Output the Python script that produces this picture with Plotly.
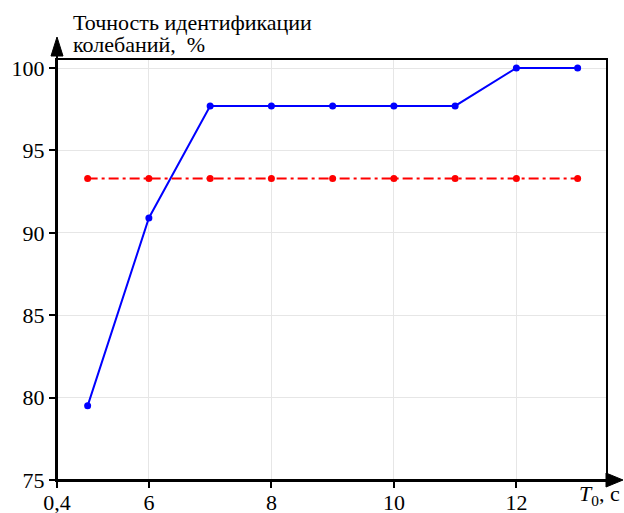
import plotly.graph_objects as go

T0 = [5, 6, 7, 8, 9, 10, 11, 12, 13]
accuracy_blue = [79.5, 90.9, 97.7, 97.7, 97.7, 97.7, 97.7, 100.0, 100.0]
accuracy_red = [93.3, 93.3, 93.3, 93.3, 93.3, 93.3, 93.3, 93.3, 93.3]
x_tickvals = [4.5, 6, 8, 10, 12]
x_ticktext = ["0,4", "6", "8", "10", "12"]
y_tickvals = [75, 80, 85, 90, 95, 100]

FONT = "Liberation Serif"
FS = 22

fig = go.Figure()
fig.add_trace(go.Scatter(x=T0, y=accuracy_blue, mode="lines+markers",
                         line=dict(color="#0000ff", width=2),
                         marker=dict(color="#0000ff", size=7), showlegend=False))
fig.add_trace(go.Scatter(x=T0, y=accuracy_red, mode="lines+markers",
                         line=dict(color="#ff0000", width=2, dash="10px,4px,3px,4px"),
                         marker=dict(color="#ff0000", size=7), showlegend=False))

L, R, T, B = 57, 18, 60, 33
W, H = 624, 513
pw, ph = W - L - R, H - T - B

def px(x):
    return (x - L) / pw

def py(y):
    return (H - B - y) / ph

shapes = [
    dict(type="line", xref="paper", yref="paper", x0=0, x1=px(612), y0=0, y1=0,
         line=dict(color="black", width=2)),
    dict(type="path", xref="paper", yref="paper",
         path=f"M {px(606)},{py(473)} L {px(623)},{py(480)} L {px(606)},{py(487)} Z",
         fillcolor="black", line=dict(color="black", width=1)),
    dict(type="line", xref="paper", yref="paper", x0=0, x1=0, y0=0, y1=py(45),
         line=dict(color="black", width=2)),
    dict(type="path", xref="paper", yref="paper",
         path=f"M {px(51)},{py(56)} L {px(57)},{py(37)} L {px(63)},{py(56)} Z",
         fillcolor="black", line=dict(color="black", width=1)),
]

fig.update_layout(
    width=W, height=H,
    margin=dict(l=L, r=R, t=T, b=B, autoexpand=False),
    paper_bgcolor="white", plot_bgcolor="white",
    font=dict(family=FONT, size=FS, color="black"),
    shapes=shapes,
    xaxis=dict(range=[4.5, 4.5 + pw / 61.25], tickvals=x_tickvals, ticktext=x_ticktext,
               showgrid=True, gridcolor="#e6e6e6", gridwidth=1, automargin=False,
               showline=True, linecolor="black", linewidth=2, mirror=True,
               ticks="outside", ticklen=6, tickwidth=2, tickcolor="black",
               ticklabelstandoff=-4,
               zeroline=False, tickfont=dict(family=FONT, size=FS)),
    yaxis=dict(range=[75, 75 + ph / 16.48], tickvals=y_tickvals,
               showgrid=True, gridcolor="#e6e6e6", gridwidth=1, automargin=False,
               showline=True, linecolor="black", linewidth=2, mirror=True,
               ticks="outside", ticklen=6, tickwidth=2, tickcolor="black",
               zeroline=False, tickfont=dict(family=FONT, size=FS)),
    annotations=[
        dict(text="Точность идентификации", xref="paper", yref="paper",
             x=px(71), y=py(22), xanchor="left", yanchor="middle",
             showarrow=False, font=dict(family=FONT, size=FS)),
        dict(text="колебаний,  %", xref="paper", yref="paper",
             x=px(71), y=py(45), xanchor="left", yanchor="middle",
             showarrow=False, font=dict(family=FONT, size=FS)),
        dict(text="<i>T</i><sub>0</sub>, с", xref="paper", yref="paper",
             x=px(622), y=py(495), xanchor="right", yanchor="middle",
             showarrow=False, font=dict(family=FONT, size=FS)),
    ],
)

fig.write_html("out.html", config={"displayModeBar": False},
               post_script="document.body.style.margin='0';document.body.style.overflow='hidden';")
